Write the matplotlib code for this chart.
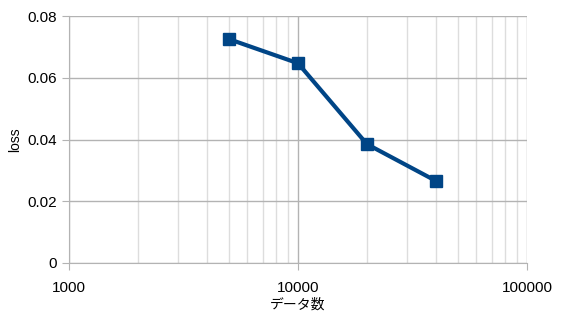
import matplotlib.pyplot as plt
from matplotlib.ticker import LogLocator, FixedLocator, NullFormatter

plt.rcParams['font.family'] = ['Liberation Sans', 'Noto Sans CJK JP', 'DejaVu Sans']

data_count = [5000, 10000, 20000, 40000]
loss = [0.0725, 0.0647, 0.0385, 0.0266]
y_ticks = [0, 0.02, 0.04, 0.06, 0.08]
y_labels = ['0', '0.02', '0.04', '0.06', '0.08']
x_ticks = [1000, 10000, 100000]
x_labels = ['1000', '10000', '100000']

fig = plt.figure(figsize=(5.68, 3.2), dpi=100)
ax = fig.add_axes([69/568, 57/320, 458/568, 247/320])

ax.plot(data_count, loss, color='#004586', linewidth=3, marker='s',
        markersize=9, zorder=3)

ax.set_xscale('log')
ax.set_xlim(1000, 100000)
ax.set_ylim(0, 0.08)

ax.xaxis.set_major_locator(FixedLocator(x_ticks))
ax.set_xticklabels(x_labels)
ax.xaxis.set_minor_locator(LogLocator(base=10, subs=range(2, 10)))
ax.xaxis.set_minor_formatter(NullFormatter())
ax.set_yticks(y_ticks)
ax.set_yticklabels(y_labels)

ax.grid(which='major', color='#b3b3b3', linewidth=1)
ax.grid(which='minor', axis='x', color='#dddddd', linewidth=1)
ax.set_axisbelow(True)

for s in ['top', 'right']:
    ax.spines[s].set_visible(False)
for s in ['left', 'bottom']:
    ax.spines[s].set_color('#b3b3b3')

ax.tick_params(which='major', length=5, color='#b3b3b3', labelsize=11)
ax.tick_params(axis='x', which='major', pad=8)
ax.tick_params(which='minor', length=0)

ax.set_xlabel('データ数', fontsize=10, labelpad=2)
ax.set_ylabel('loss', fontsize=10, labelpad=4)

fig.savefig('out.png', dpi=100)
